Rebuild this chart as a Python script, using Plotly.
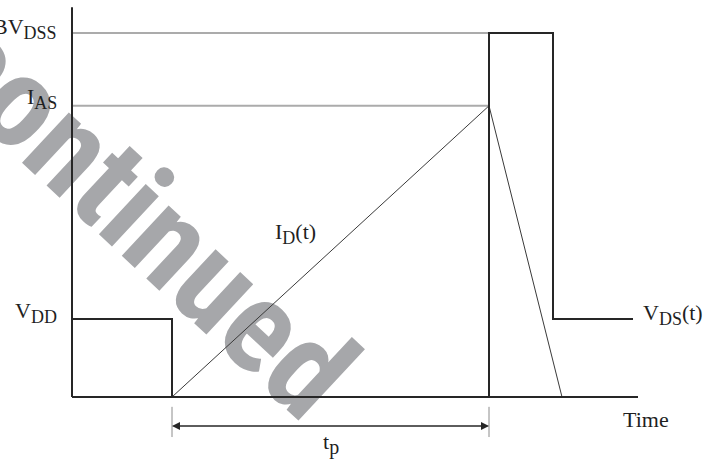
import plotly.graph_objects as go

# Normalised signal levels (BV_DSS = 1)
BVDSS = 1.0
IAS = 0.80
VDD = 0.214

# Time markers (arbitrary time units)
t_start = 1.00     # gate pulse ends / avalanche current ramp starts
t_clamp = 4.17     # end of t_p, drain voltage clamps at BV_DSS
t_release = 4.81   # drain voltage falls back to V_DD
t_zero = 4.90      # drain current reaches zero
t_end = 5.61       # end of the V_DS(t) trace
t_axis = 5.66      # end of the time axis
v_axis_top = 1.071

# V_DS(t) waveform
vds_t = [0, t_start, t_start, t_clamp, t_clamp, t_release, t_release, t_end]
vds_v = [VDD, VDD, 0, 0, BVDSS, BVDSS, VDD, VDD]

# I_D(t) waveform
id_t = [t_start, t_clamp, t_zero]
id_v = [0, IAS, 0]

# Reference levels drawn from the vertical axis to t_clamp
ref_levels = [BVDSS, IAS]

INK = "#262626"
GRID = "#ababab"
SERIF = "Liberation Serif, Times New Roman, serif"

fig = go.Figure()

for lvl in ref_levels:
    fig.add_trace(go.Scatter(x=[0, t_clamp], y=[lvl, lvl], mode="lines",
                             line=dict(color=GRID, width=2), hoverinfo="skip"))

fig.add_trace(go.Scatter(x=id_t, y=id_v, mode="lines",
                         line=dict(color="#3a3a3a", width=1), hoverinfo="skip"))

fig.add_trace(go.Scatter(x=vds_t, y=vds_v, mode="lines",
                         line=dict(color=INK, width=2), hoverinfo="skip"))

# Axes drawn as lines
fig.add_trace(go.Scatter(x=[0, 0], y=[0, v_axis_top], mode="lines",
                         line=dict(color=INK, width=2), hoverinfo="skip"))
fig.add_trace(go.Scatter(x=[0, t_axis], y=[0, 0], mode="lines",
                         line=dict(color=INK, width=2), hoverinfo="skip"))

# t_p dimension: extension ticks
dim_y = -0.0797
for tx in [t_start, t_clamp]:
    fig.add_trace(go.Scatter(x=[tx, tx], y=[-0.027, -0.11], mode="lines",
                             line=dict(color="#8c8c8c", width=1), hoverinfo="skip"))

# Dimension arrow with heads at both ends
for head, tail in [(t_start, t_clamp), (t_clamp, t_start)]:
    fig.add_annotation(x=head, y=dim_y, ax=tail, ay=dim_y, axref="x", ayref="y",
                       xref="x", yref="y", text="", showarrow=True,
                       arrowhead=2, arrowsize=1.6, arrowwidth=1, arrowcolor=INK)

def sub(main, s, size=18):
    return f"{main}<sub><span style='font-size:{size}px'>{s}</span></sub>"

lab_font = dict(family=SERIF, size=22, color="#1f1f1f")
labels = [
    dict(x=0, y=BVDSS, text=sub("BV", "DSS"), xanchor="right", xshift=-13, yshift=5),
    dict(x=0, y=IAS, text=sub("I", "AS"), xanchor="right", xshift=-13, yshift=7),
    dict(x=0, y=VDD, text=sub("V", "DD"), xanchor="right", xshift=-13, yshift=7),
    dict(x=t_end, y=VDD, text=sub("V", "DS") + "(t)", xanchor="left", xshift=8, yshift=5),
    dict(x=2.23, y=0.45, text=sub("I", "D") + "(t)", xanchor="center"),
    dict(x=5.74, y=-0.063, text="Time", xanchor="center"),
    dict(x=(t_start + t_clamp) / 2, y=-0.13, text=sub("t", "p", 20), xanchor="center"),
]
for lab in labels:
    fig.add_annotation(xref="x", yref="y", showarrow=False, font=lab_font, **lab)

# Diagonal watermark, kept underneath the waveforms
fig.add_shape(type="rect", xref="x", yref="y", layer="below",
              x0=0.18, x1=0.20, y0=0.663, y1=0.673,
              line=dict(width=0), fillcolor="rgba(0,0,0,0)",
              label=dict(text="Discontinued", textangle=43,
                         textposition="middle center", padding=0,
                         font=dict(family="Roboto Condensed, Roboto, DejaVu Sans, sans-serif",
                                   size=130, color="#a6a7aa", weight="bold")))

fig.update_xaxes(visible=False, range=[-0.72, 6.52], fixedrange=True)
fig.update_yaxes(visible=False, range=[-0.1978, 1.0907], fixedrange=True)
fig.update_layout(width=724, height=469, margin=dict(l=0, r=0, t=0, b=0),
                  paper_bgcolor="white", plot_bgcolor="white", showlegend=False)

fig.write_html("out.html")
